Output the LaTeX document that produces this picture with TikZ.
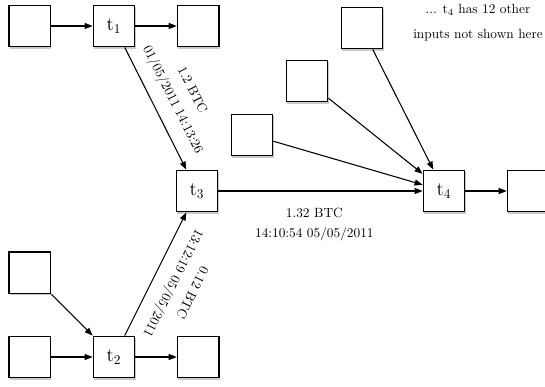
\documentclass[tikz,border=0pt]{standalone}
\usepackage{amsmath}
\usetikzlibrary{positioning,arrows.meta,shadows}

\begin{document}
\begin{tikzpicture}[x=0.75pt,y=0.75pt,node distance=31pt,
    tx/.style={draw,line width=1.1pt,fill=white,minimum size=31pt,inner sep=0pt,font=\Large,
      drop shadow={shadow xshift=0.7pt,shadow yshift=-1.4pt,fill=black!35,opacity=0.6}},
    arr/.style={line width=0.8pt,-{Triangle[length=6pt,width=4.5pt]}},
    lbl/.style={sloped,anchor=south,align=center,outer ysep=6pt}]
  \useasboundingbox (0,0) rectangle (545,386);

  % the four transactions
  \node [tx] (t1) at (114,360) {t$_1$};
  \node [tx] (t3) at (197,195) {t$_3$};
  \node [tx] (t2) at (114,29) {t$_2$};
  \node [tx] (t4) at (444,195) {t$_4$};

  % plain inputs / outputs
  \node [tx,left=of t1] (in1) {};
  \node [tx,right=of t1] (out1) {};
  \node [tx,left=of t2] (in2b) {};
  \node [tx,above=of in2b] (in2a) {};
  \node [tx,right=of t2] (out2) {};
  \node [tx,right=of t4] (out4) {};
  \node [tx] (in4a) at (252,251) {};
  \node [tx] (in4b) at (307,305) {};
  \node [tx] (in4c) at (362,358) {};

  \node [align=center] (note) at (478,363) {... t$_4$ has 12 other\\[7pt]inputs not shown here};

  \draw [arr] (in1) -- (t1);
  \draw [arr] (t1) -- (out1);
  \draw [arr] (in2a) -- (t2);
  \draw [arr] (in2b) -- (t2);
  \draw [arr] (t2) -- (out2);
  \draw [arr] (t1) -- node [lbl] {1.2 BTC\\[4pt]01/05/2011 14:13:26} (t3);
  \draw [arr] (t2) -- node [lbl,rotate=180] {0.12 BTC\\[4pt]13:12:19 05/05/2011} (t3);
  \draw [arr] (t3) -- node [below=9pt,align=center,pos=0.47] {1.32 BTC\\[3pt]14:10:54 05/05/2011} (t4);
  \draw [arr] (in4a) -- (t4);
  \draw [arr] (in4b) -- (t4);
  \draw [arr] (in4c) -- (t4);
  \draw [arr] (t4) -- (out4);
\end{tikzpicture}
\end{document}
